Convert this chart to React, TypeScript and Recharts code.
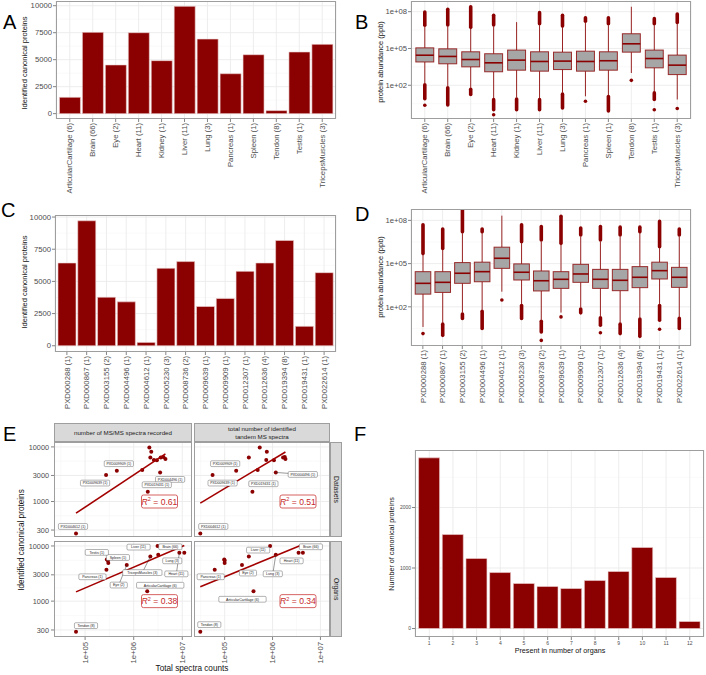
import React from 'react'
import { BarChart, Bar, ComposedChart, Scatter, XAxis, YAxis, CartesianGrid, ReferenceDot } from 'recharts'

const FONT = '"Liberation Sans", Arial, Helvetica, sans-serif'
const RED = '#8b0000'
const GRID = '#ebebeb'
const GRID_MINOR = '#f5f5f5'
const BORDER = '#9e9e9e'
const TXT = '#4d4d4d'

// ---------- organs (panels A, B, E) ----------
const organs = ['ArticularCartilage (6)', 'Brain (66)', 'Eye (2)', 'Heart (11)', 'Kidney (1)', 'Liver (11)', 'Lung (3)', 'Pancreas (1)', 'Spleen (1)', 'Tendon (8)', 'Testis (1)', 'TricepsMuscles (3)']
const organProteins = [1510, 7530, 4510, 7500, 4910, 9940, 6910, 3700, 5460, 280, 5710, 6420]

// protein abundance, log10(ppb)
const organWhiskerLo = [2.17, 1.92, 1.79, 0.95, 1.0, 0.95, 1.4, 1.1, 1.2, 3.0, 1.5, 0.84]
const organQ1 = [3.9, 3.75, 3.5, 3.1, 3.23, 3.15, 3.28, 3.15, 3.23, 4.7, 3.42, 2.87]
const organMedian = [4.45, 4.35, 4.1, 3.83, 4.05, 3.94, 3.97, 3.94, 4.0, 5.38, 4.18, 3.64]
const organQ3 = [5.05, 4.97, 4.73, 4.57, 4.87, 4.73, 4.7, 4.78, 4.73, 6.2, 4.87, 4.46]
const organWhiskerHi = [6.78, 6.8, 6.6, 6.8, 7.15, 6.9, 6.7, 7.1, 6.9, 8.4, 6.9, 7.0]
const organOutHi = [7.97, 8.2, 8.4, 7.7, 7.15, 7.92, 7.7, 7.5, 7.5, 8.4, 7.43, 7.8]
const organOutLoDense = [0.9, 0.4, 1.25, 0.0, 0.0, 0.0, 0.15, 1.1, -0.1, 3.0, 0.84, 0.84]
const organOutLoMin = [0.37, 0.4, 1.25, -0.4, 0.0, 0.0, 0.15, 0.7, -0.1, 2.4, 0.0, 0.1]

// ---------- datasets (panels C, D, E) ----------
const datasets = ['PXD000288 (1)', 'PXD000867 (1)', 'PXD003155 (2)', 'PXD004496 (1)', 'PXD004612 (1)', 'PXD005230 (3)', 'PXD008736 (2)', 'PXD009639 (1)', 'PXD009909 (1)', 'PXD012307 (1)', 'PXD012636 (4)', 'PXD019394 (8)', 'PXD019431 (1)', 'PXD022614 (1)']
const datasetProteins = [6430, 9710, 3770, 3410, 260, 6020, 6540, 3050, 3670, 5780, 6430, 8180, 1510, 5680]

const dsWhiskerLo = [0.6, 0.9, 1.6, 1.8, 3.05, 2.2, 1.1, 1.6, 1.95, 1.35, 0.9, 1.25, 2.2, 1.3]
const dsQ1 = [2.88, 3.0, 3.63, 3.74, 4.67, 3.86, 3.1, 3.28, 3.7, 3.28, 3.12, 3.33, 3.93, 3.35]
const dsMedian = [3.63, 3.7, 4.33, 4.44, 5.37, 4.4, 3.81, 3.91, 4.28, 3.91, 3.84, 4.05, 4.51, 4.05]
const dsQ3 = [4.44, 4.44, 5.07, 5.1, 6.14, 4.98, 4.49, 4.44, 4.95, 4.6, 4.6, 4.79, 5.1, 4.74]
const dsWhiskerHi = [5.6, 5.95, 7.1, 7.1, 8.33, 6.42, 6.53, 6.3, 6.88, 6.53, 6.88, 7.1, 6.07, 6.88]
const dsOutHi = [7.7, 7.4, 8.74, 7.4, 8.33, 7.7, 7.58, 8.28, 7.47, 7.58, 7.53, 7.53, 7.93, 7.4]
const dsOutLoDense = [0.6, 0.02, 1.19, 0.49, 3.05, 1.19, 0.26, 1.6, 1.58, 0.72, 0.14, -0.05, 1.07, 0.49]
const dsOutLoMin = [0.14, 0.02, 1.19, 0.49, 2.47, 1.19, -0.33, 1.3, 1.58, 0.2, 0.14, -0.05, 0.44, 0.49]

// ---------- panel E: total spectra counts ----------
const datasetRecorded = [2.2e6, 2.1e6, 1.5e6, 3.5e6, 6.5e4, 4.5e6, 4.1e6, 2.7e5, 4.5e5, 2.6e6, 3.6e6, 2.3e6, 1.95e6, 3.0e6]
const datasetIdentified = [3.2e5, 5.4e5, 4.9e5, 1.17e6, 3.1e4, 1.86e6, 1.8e6, 5.6e4, 1.74e5, 7.4e5, 1.66e6, 7.6e5, 3.8e5, 1.07e6]
const organRecorded = [1.9e6, 1.1e7, 7.2e5, 8.7e6, 3.0e5, 3.1e6, 3.2e6, 2.75e5, 2.95e5, 6.5e4, 2.8e5, 2.2e6]
const organIdentified = [4.0e5, 4.3e6, 2.3e5, 3.5e6, 1.0e5, 8.9e5, 1.17e6, 6.2e4, 1.0e5, 3.1e4, 9.8e4, 3.2e5]
const r2Text = ['0.61', '0.51', '0.38', '0.34']
const r2Anchor = { x: 3.4e6, y: 1000 }
const eYTicks = [300, 1000, 3000, 10000]
const eXTicks = [1e5, 1e6, 1e7]

// ---------- panel F ----------
const organCount = ['1', '2', '3', '4', '5', '6', '7', '8', '9', '10', '11', '12']
const proteinsInOrgans = [2820, 1553, 1157, 925, 744, 694, 661, 793, 942, 1339, 843, 116]

// label placement for the repelled labels in E (pixel nudges, layout only)
const nudgeDsRec = [
  { name: 'PXD009909 (1)', dx: 2, dy: -7 },
  { name: 'PXD009639 (1)', dx: -11, dy: 8 },
  { name: 'PXD004496 (1)', dx: 10, dy: 7 },
  { name: 'PXD019431 (1)', dx: 9, dy: -7 },
  { name: 'PXD004612 (1)', dx: -3, dy: -7 },
]
const nudgeDsIdent = [
  { name: 'PXD009909 (1)', dx: -11, dy: -7 },
  { name: 'PXD009639 (1)', dx: 10, dy: 8 },
  { name: 'PXD004496 (1)', dx: 27, dy: 2, seg: true },
  { name: 'PXD019431 (1)', dx: 11, dy: -8 },
  { name: 'PXD004612 (1)', dx: 13, dy: -7 },
]
const nudgeOrgRec = [
  { name: 'Testis (1)', dx: -10, dy: -7 },
  { name: 'Spleen (1)', dx: 10, dy: -3 },
  { name: 'Liver (11)', dx: -19, dy: 1 },
  { name: 'Brain (66)', dx: -14, dy: -6 },
  { name: 'Lung (3)', dx: 14, dy: 6 },
  { name: 'Heart (11)', dx: -3, dy: 21, seg: true },
  { name: 'Pancreas (1)', dx: -14, dy: 7 },
  { name: 'TricepsMuscles (3)', dx: -8, dy: 16, seg: true },
  { name: 'Eye (2)', dx: -8, dy: 20, seg: true },
  { name: 'ArticularCartilage (6)', dx: 13, dy: -6 },
  { name: 'Tendon (8)', dx: 10, dy: -6 },
]
const nudgeOrgIdent = [
  { name: 'Liver (11)', dx: -12, dy: 4 },
  { name: 'Brain (66)', dx: 8, dy: -6 },
  { name: 'Heart (11)', dx: -7, dy: 8 },
  { name: 'Lung (3)', dx: -3, dy: 19, seg: true },
  { name: 'Pancreas (1)', dx: -4, dy: 7 },
  { name: 'Eye (2)', dx: 6, dy: 8 },
  { name: 'ArticularCartilage (6)', dx: -11, dy: 8 },
  { name: 'Tendon (8)', dx: 9, dy: -7 },
]

const organBars = organs.map((name, i) => ({ name, value: organProteins[i] }))
const datasetBars = datasets.map((name, i) => ({ name, value: datasetProteins[i] }))
const organCountBars = organCount.map((name, i) => ({ name, value: proteinsInOrgans[i] }))

const makeBoxes = (names: string[], wLo: number[], q1: number[], med: number[], q3: number[], wHi: number[], outHi: number[], loDense: number[], loMin: number[]) =>
  names.map((name, i) => ({
    name, wLo: wLo[i], q1: q1[i], med: med[i], q3: q3[i], wHi: wHi[i], outHi: outHi[i], loDense: loDense[i], loMin: loMin[i],
    range: [Math.min(loMin[i], wLo[i]), Math.max(outHi[i], wHi[i])],
  }))
const organBoxes = makeBoxes(organs, organWhiskerLo, organQ1, organMedian, organQ3, organWhiskerHi, organOutHi, organOutLoDense, organOutLoMin)
const datasetBoxes = makeBoxes(datasets, dsWhiskerLo, dsQ1, dsMedian, dsQ3, dsWhiskerHi, dsOutHi, dsOutLoDense, dsOutLoMin)

const toPoints = (names: string[], xs: number[], ys: number[]) =>
  names.map((name, i) => ({ name, lx: Math.log10(xs[i]), ly: Math.log10(ys[i]) }))

// least squares line in log-log space, drawn over the data range
const fitLine = (pts: { lx: number; ly: number }[]) => {
  const n = pts.length
  const mx = pts.reduce((s, p) => s + p.lx, 0) / n
  const my = pts.reduce((s, p) => s + p.ly, 0) / n
  let sxy = 0, sxx = 0
  pts.forEach(p => { sxy += (p.lx - mx) * (p.ly - my); sxx += (p.lx - mx) ** 2 })
  const b = sxy / sxx
  const x0 = Math.min(...pts.map(p => p.lx)), x1 = Math.max(...pts.map(p => p.lx))
  return [{ lx: x0, ly: my + b * (x0 - mx) }, { lx: x1, ly: my + b * (x1 - mx) }]
}

const RotTick = ({ x, y, payload, fontSize, format }: any) => (
  <g transform={`translate(${x},${y})`}>
    <text transform="rotate(-90)" x={0} y={0} dy="0.35em" textAnchor="end" fontSize={fontSize} fill={TXT} fontFamily={FONT}>
      {format ? format(payload.value) : payload.value}
    </text>
  </g>
)

const BoxShape = (p: any) => {
  const { x, y, width, height, payload: d } = p
  const [lo, hi] = d.range
  const top = Math.min(y, y + height)
  const h = Math.abs(height)
  const py = (v: number) => top + ((hi - v) / (hi - lo)) * h
  const cx = x + width / 2
  const bw = width * 0.78
  return (
    <g>
      <line x1={cx} x2={cx} y1={py(d.q3)} y2={py(d.wHi)} stroke={RED} strokeWidth={1} strokeOpacity={0.85} />
      <line x1={cx} x2={cx} y1={py(d.q1)} y2={py(d.wLo)} stroke={RED} strokeWidth={1} strokeOpacity={0.85} />
      {d.outHi > d.wHi && <line x1={cx} x2={cx} y1={py(d.wHi) - 1.5} y2={py(d.outHi)} stroke={RED} strokeWidth={3.6} strokeLinecap="round" />}
      {d.loDense < d.wLo && <line x1={cx} x2={cx} y1={py(d.wLo) + 1.5} y2={py(d.loDense)} stroke={RED} strokeWidth={3.6} strokeLinecap="round" />}
      {d.loMin < d.loDense && <circle cx={cx} cy={py(d.loMin)} r={1.8} fill={RED} />}
      <rect x={cx - bw / 2} y={py(d.q3)} width={bw} height={py(d.q1) - py(d.q3)} fill="#a6a6a6" stroke={RED} strokeOpacity={0.8} strokeWidth={1} />
      <line x1={cx - bw / 2} x2={cx + bw / 2} y1={py(d.med)} y2={py(d.med)} stroke={RED} strokeWidth={1.6} />
    </g>
  )
}

const Dot = (p: any) => <circle cx={p.cx} cy={p.cy} r={2} fill={RED} />
const Empty = () => <g />

const LABEL_FS = 3.6
const makeLabelShape = (nudges: { name: string; dx: number; dy: number; seg?: boolean }[]) => (p: any) => {
  const n = nudges.find(l => l.name === p.payload.name)
  if (!n) return <g />
  const lx = p.cx + n.dx
  const ly = p.cy + n.dy
  const w = n.name.length * 0.56 * LABEL_FS + 3
  return (
    <g>
      {n.seg && <line x1={p.cx} y1={p.cy} x2={lx} y2={ly} stroke="#333" strokeWidth={0.5} />}
      <rect x={lx - w / 2} y={ly - 2.9} width={w} height={5.8} rx={1.2} fill="#fff" stroke="#555" strokeWidth={0.45} />
      <text x={lx} y={ly} dy="0.35em" textAnchor="middle" fontSize={LABEL_FS} fill="#222" fontFamily={FONT}>{n.name}</text>
    </g>
  )
}

const R2Box = ({ cx, cy, text }: any) => (
  <g>
    <rect x={cx - 18} y={cy - 6.5} width={36} height={13} rx={2} fill="#fff" stroke="#cc3b3b" strokeWidth={0.8} />
    <text x={cx} y={cy} dy="0.35em" textAnchor="middle" fontSize={8.6} fill="#c62828" fontFamily={FONT}>
      <tspan fontStyle="italic">R</tspan>
      <tspan fontSize={5.5} dy={-3.5}>2</tspan>
      <tspan dy={3.5}> = {text}</tspan>
    </text>
  </g>
)

const Frame = ({ x, y, w, h }: any) => (
  <div style={{ position: 'absolute', left: x, top: y, width: w, height: h, border: `1px solid ${BORDER}`, boxSizing: 'border-box', pointerEvents: 'none' }} />
)

const Title = ({ cx, cy, text, size, rot = 0, color = '#111' }: any) => (
  <div style={{ position: 'absolute', left: cx, top: cy, transform: `translate(-50%,-50%) rotate(${rot}deg)`, whiteSpace: 'nowrap', fontSize: size, fontFamily: FONT, color, lineHeight: 1.15, textAlign: 'center' }}>
    {text}
  </div>
)

const Letter = ({ x, y, text }: any) => (
  <div style={{ position: 'absolute', left: x, top: y, fontSize: 20, fontFamily: FONT, lineHeight: 1, color: '#000' }}>{text}</div>
)

const tickLine = { stroke: '#333', strokeWidth: 0.6 }

function CountBars({ box, plot, data, domain, ticks, minor, pad, tickFont, rotated }: any) {
  const margin = { top: plot.y - box.y, right: box.x + box.w - (plot.x + plot.w), left: 0, bottom: 0 }
  return (
    <div style={{ position: 'absolute', left: box.x, top: box.y }}>
      <BarChart width={box.w} height={box.h} data={data} margin={margin} barCategoryGap="5%">
        <CartesianGrid vertical={false} horizontalValues={minor} stroke={GRID_MINOR} strokeWidth={0.6} />
        <CartesianGrid horizontalValues={ticks} stroke={GRID} strokeWidth={0.9} />
        <XAxis dataKey="name" interval={0} axisLine={false} tickLine={tickLine} tickSize={3} padding={{ left: pad, right: pad }}
          height={box.y + box.h - (plot.y + plot.h)}
          tick={rotated ? (p: any) => <RotTick {...p} fontSize={tickFont} /> : { fill: TXT, fontSize: tickFont, fontFamily: FONT }}
          tickMargin={rotated ? 1 : 1} />
        <YAxis type="number" domain={domain} ticks={ticks} allowDataOverflow interval={0} width={plot.x - box.x} axisLine={false}
          tickLine={tickLine} tickSize={3} tickMargin={1} tick={{ fill: TXT, fontSize: tickFont, fontFamily: FONT }} />
        <Bar dataKey="value" fill={RED} stroke="#efd3d3" strokeWidth={0.6} isAnimationActive={false} />
      </BarChart>
    </div>
  )
}

function BoxPanel({ box, plot, data, pad }: any) {
  const margin = { top: plot.y - box.y, right: box.x + box.w - (plot.x + plot.w), left: 0, bottom: 0 }
  return (
    <div style={{ position: 'absolute', left: box.x, top: box.y }}>
      <BarChart width={box.w} height={box.h} data={data} margin={margin} barCategoryGap={0}>
        <CartesianGrid vertical={false} horizontalValues={[0.5, 3.5, 6.5]} stroke={GRID_MINOR} strokeWidth={0.6} />
        <CartesianGrid horizontalValues={[2, 5, 8]} stroke={GRID} strokeWidth={0.9} />
        <XAxis dataKey="name" interval={0} axisLine={false} tickLine={tickLine} tickSize={3} tickMargin={1} padding={{ left: pad, right: pad }}
          height={box.y + box.h - (plot.y + plot.h)} tick={(p: any) => <RotTick {...p} fontSize={7.7} />} />
        <YAxis type="number" domain={plot.domain} ticks={[2, 5, 8]} allowDataOverflow interval={0} width={plot.x - box.x} axisLine={false}
          tickLine={tickLine} tickSize={3} tickMargin={1} tickFormatter={(v: number) => `1e+0${v}`}
          tick={{ fill: TXT, fontSize: 7.7, fontFamily: FONT }} />
        <Bar dataKey="range" shape={BoxShape} isAnimationActive={false} />
      </BarChart>
    </div>
  )
}

const E_XDOM = [4.36, 7.2]
const E_YDOM = [2.35, 4.09]

function ScatterPanel({ box, plot, points, nudges, r2, showX, showY }: any) {
  const margin = { top: plot.y - box.y, right: box.x + box.w - (plot.x + plot.w), left: 0, bottom: 0 }
  const fit = fitLine(points)
  return (
    <div style={{ position: 'absolute', left: box.x, top: box.y }}>
      <ComposedChart width={box.w} height={box.h} margin={margin}>
        <CartesianGrid horizontalValues={[2.7386, 3.2386, 3.7386]} verticalValues={[4.5, 5.5, 6.5]} stroke={GRID_MINOR} strokeWidth={0.6} />
        <CartesianGrid horizontalValues={eYTicks.map(Math.log10)} verticalValues={eXTicks.map(Math.log10)} stroke={GRID} strokeWidth={0.9} />
        <XAxis type="number" dataKey="lx" domain={E_XDOM} allowDataOverflow ticks={eXTicks.map(Math.log10)} interval={0}
          hide={!showX} height={showX ? box.y + box.h - (plot.y + plot.h) : 0} axisLine={false} tickLine={tickLine} tickSize={3} tickMargin={2}
          tick={(p: any) => <RotTick {...p} fontSize={7.7} format={(v: number) => `1e+0${Math.round(v)}`} />} />
        <YAxis type="number" dataKey="ly" domain={E_YDOM} allowDataOverflow ticks={eYTicks.map(Math.log10)} interval={0}
          hide={!showY} width={showY ? plot.x - box.x : 0} axisLine={false} tickLine={tickLine} tickSize={3} tickMargin={2}
          tickFormatter={(v: number) => String(Math.round(10 ** v))} tick={{ fill: TXT, fontSize: 7.3, fontFamily: FONT }} />
        <Scatter data={points} shape={Dot} isAnimationActive={false} />
        <Scatter data={fit} line={{ stroke: '#a30000', strokeWidth: 1.6 }} shape={Empty} isAnimationActive={false} />
        <Scatter data={points} shape={makeLabelShape(nudges)} isAnimationActive={false} />
        <ReferenceDot x={Math.log10(r2Anchor.x)} y={Math.log10(r2Anchor.y)} r={1} shape={(p: any) => <R2Box cx={p.cx} cy={p.cy} text={r2} />} />
      </ComposedChart>
    </div>
  )
}

const Strip = ({ x, y, w, h, children, vertical }: any) => (
  <div style={{
    position: 'absolute', left: x, top: y, width: w, height: h, background: '#d9d9d9', border: `1px solid ${BORDER}`, boxSizing: 'border-box',
    display: 'flex', alignItems: 'center', justifyContent: 'center', fontFamily: FONT, fontSize: vertical ? 6.8 : 6.2, color: '#1a1a1a',
    textAlign: 'center', lineHeight: 1.15,
  }}>
    <div style={vertical ? { writingMode: 'vertical-rl' } : {}}>{children}</div>
  </div>
)

export default function App() {
  const pA = { x: 56, y: 1, w: 280, h: 118 }
  const pB = { x: 411, y: 1, w: 280, h: 118, domain: [-0.75, 8.87] }
  const pC = { x: 55, y: 215, w: 281, h: 137 }
  const pD = { x: 411, y: 209, w: 280, h: 137, domain: [-0.72, 8.79] }
  const pF = { x: 415, y: 450, w: 289, h: 187 }
  const eTL = { x: 54, y: 442, w: 138, h: 95 }
  const eTR = { x: 194, y: 442, w: 136, h: 95 }
  const eBL = { x: 54, y: 541, w: 138, h: 96 }
  const eBR = { x: 194, y: 541, w: 136, h: 96 }

  return (
    <div style={{ position: 'absolute', left: 0, top: 0, width: 706, height: 675, background: '#fff', overflow: 'hidden', fontFamily: FONT }}>
      <CountBars box={{ x: 0, y: 0, w: 340, h: 200 }} plot={pA} data={organBars} domain={[-497, 10437]}
        ticks={[0, 2500, 5000, 7500, 10000]} minor={[1250, 3750, 6250, 8750]} pad={2.3} tickFont={7.7} rotated />
      <BoxPanel box={{ x: 353, y: 0, w: 353, h: 200 }} plot={pB} data={organBoxes} pad={2.3} />
      <CountBars box={{ x: 0, y: 200, w: 340, h: 215 }} plot={pC} data={datasetBars} domain={[-485, 10160]}
        ticks={[0, 2500, 5000, 7500, 10000]} minor={[1250, 3750, 6250, 8750]} pad={2} tickFont={7.7} rotated />
      <BoxPanel box={{ x: 353, y: 200, w: 353, h: 215 }} plot={pD} data={datasetBoxes} pad={2} />
      <CountBars box={{ x: 353, y: 440, w: 353, h: 235 }} plot={pF} data={organCountBars} domain={[-140, 2950]}
        ticks={[0, 1000, 2000]} minor={[500, 1500, 2500]} pad={2.4} tickFont={5} />

      <ScatterPanel box={{ x: 0, y: 442, w: 192, h: 95 }} plot={eTL} points={toPoints(datasets, datasetRecorded, datasetProteins)} nudges={nudgeDsRec} r2={r2Text[0]} showY />
      <ScatterPanel box={{ x: 194, y: 442, w: 136, h: 95 }} plot={eTR} points={toPoints(datasets, datasetIdentified, datasetProteins)} nudges={nudgeDsIdent} r2={r2Text[1]} />
      <ScatterPanel box={{ x: 0, y: 541, w: 192, h: 134 }} plot={eBL} points={toPoints(organs, organRecorded, organProteins)} nudges={nudgeOrgRec} r2={r2Text[2]} showX showY />
      <ScatterPanel box={{ x: 194, y: 541, w: 136, h: 134 }} plot={eBR} points={toPoints(organs, organIdentified, organProteins)} nudges={nudgeOrgIdent} r2={r2Text[3]} showX />

      {[pA, pB, pC, pD, pF, eTL, eTR, eBL, eBR].map((p, i) => <Frame key={i} {...p} />)}

      <Strip x={54} y={423} w={138} h={19}>number of MS/MS spectra recorded</Strip>
      <Strip x={194} y={423} w={136} h={19}>total number of identified<br />tandem MS spectra</Strip>
      <Strip x={330} y={442} w={12} h={95} vertical>Datasets</Strip>
      <Strip x={330} y={541} w={12} h={96} vertical>Organs</Strip>

      <Title cx={24.5} cy={63} text="Identified canonical proteins" size={7.5} rot={-90} />
      <Title cx={381} cy={62} text="protein abundance (ppb)" size={7.5} rot={-90} />
      <Title cx={25} cy={282} text="Identified canonical proteins" size={7.5} rot={-90} />
      <Title cx={381} cy={277} text="protein abundance (ppb)" size={7.5} rot={-90} />
      <Title cx={22} cy={540} text="Identified canonical proteins" size={8.2} rot={-90} />
      <Title cx={192} cy={669} text="Total spectra counts" size={8.2} />
      <Title cx={392} cy={544} text="Number of canonical proteins" size={7.2} rot={-90} />
      <Title cx={560} cy={651} text="Present in number of organs" size={7.2} />

      <Letter x={3} y={12} text="A" />
      <Letter x={355} y={12} text="B" />
      <Letter x={1} y={200} text="C" />
      <Letter x={355} y={204} text="D" />
      <Letter x={3} y={424} text="E" />
      <Letter x={354} y={424} text="F" />
    </div>
  )
}
